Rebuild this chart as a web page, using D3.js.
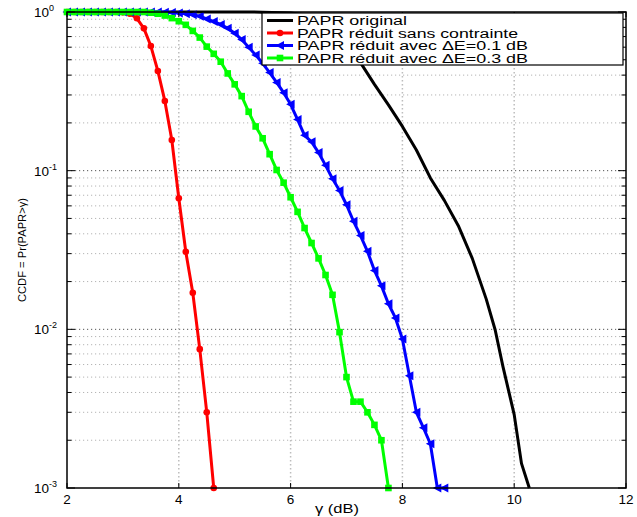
<!DOCTYPE html>
<html>
<head>
<meta charset="utf-8">
<script src="https://cdn.jsdelivr.net/npm/d3@7/dist/d3.min.js"></script>
<style>
  html, body { margin: 0; padding: 0; background: #fff; }
  svg { display: block; font-family: "Liberation Sans", Arial, Helvetica, sans-serif; }
</style>
</head>
<body>
<svg id="chart" width="637" height="517"></svg>
<script>
// Sample grid (dB) shared by the three reduced-PAPR curves
const gamma = [2, 2.125, 2.25, 2.375, 2.5, 2.625, 2.75, 2.875, 3, 3.125, 3.25, 3.375, 3.5, 3.625, 3.75, 3.875,
  4, 4.125, 4.25, 4.375, 4.5, 4.625, 4.75, 4.875, 5, 5.125, 5.25, 5.375, 5.5, 5.625, 5.75, 5.875,
  6, 6.125, 6.25, 6.375, 6.5, 6.625, 6.75, 6.875, 7, 7.125, 7.25, 7.375, 7.5, 7.625, 7.75, 7.875,
  8, 8.125, 8.25, 8.375, 8.5, 8.625, 8.75];

// PAPR réduit sans contrainte
const ccdfNoConstraint = [1, 1, 1, 1, 1, 1, 1, 0.999, 0.995, 0.975, 0.913, 0.789, 0.61, 0.425, 0.275, 0.156,
  0.067, 0.0308, 0.017, 0.0075, 0.003, 0.001];

// PAPR réduit avec ΔE = 0.1 dB
const ccdfDelta01 = [1, 1, 1, 1, 1, 1, 1, 1, 1, 1, 1, 1, 1, 1, 0.997, 0.993,
  0.985, 0.975, 0.96, 0.94, 0.905, 0.87, 0.835, 0.79, 0.735, 0.67, 0.60, 0.535, 0.475, 0.415, 0.36, 0.31,
  0.262, 0.21, 0.167, 0.152, 0.13, 0.108, 0.089, 0.075, 0.061, 0.048, 0.039, 0.031, 0.0235, 0.0188, 0.0145, 0.0118,
  0.0087, 0.0051, 0.003, 0.0024, 0.0019, 0.001, 0.001];

// PAPR réduit avec ΔE = 0.3 dB
const ccdfDelta03 = [1, 1, 1, 1, 1, 1, 1, 1, 1, 1, 1, 1, 0.99, 0.975, 0.95, 0.915,
  0.875, 0.83, 0.76, 0.69, 0.605, 0.545, 0.486, 0.41, 0.35, 0.295, 0.235, 0.19, 0.16, 0.127, 0.101, 0.084,
  0.068, 0.055, 0.0435, 0.035, 0.028, 0.022, 0.0165, 0.0096, 0.005, 0.0035, 0.0035, 0.003, 0.0025, 0.002, 0.001];

// PAPR original (no markers)
const gammaOriginal = [2, 5, 5.5, 6, 6.25, 6.5, 6.75, 7, 7.25, 7.5, 7.75, 8, 8.25, 8.5, 8.75, 9, 9.25, 9.5, 9.66, 9.8, 10, 10.13, 10.27];
const ccdfOriginal = [1, 1, 0.998, 0.985, 0.96, 0.91, 0.8, 0.65, 0.48, 0.35, 0.26, 0.19, 0.135, 0.09, 0.065, 0.045, 0.028, 0.0155, 0.0099, 0.0058, 0.0029, 0.00143, 0.001];

const xTicks = [2, 4, 6, 8, 10, 12];
const yDecades = [0, -1, -2, -3];
const legendLabels = ["PAPR original", "PAPR réduit sans contrainte", "PAPR réduit avec \u0394E=0.1 dB", "PAPR réduit avec \u0394E=0.3 dB"];

const svg = d3.select("#chart");
const L = 67, R = 626, T = 12, B = 488;

const x = d3.scaleLinear().domain([2, 12]).range([L, R]);
const y = d3.scaleLog().domain([1e-3, 1]).range([B, T]);

// grid
const grid = svg.append("g");
const minorVals = [];
[-3, -2, -1].forEach(e => { for (let m = 2; m <= 9; m++) minorVals.push(m * Math.pow(10, e)); });
grid.selectAll(".ymin").data(minorVals).join("line")
  .attr("x1", L).attr("x2", R).attr("y1", d => y(d)).attr("y2", d => y(d))
  .attr("stroke", "#b4b4b4").attr("stroke-width", 1).attr("stroke-dasharray", "1.2,2.8");
grid.selectAll(".ymaj").data(yDecades.slice(1, 3)).join("line")
  .attr("x1", L).attr("x2", R).attr("y1", d => y(Math.pow(10, d))).attr("y2", d => y(Math.pow(10, d)))
  .attr("stroke", "#555").attr("stroke-width", 1).attr("stroke-dasharray", "1.2,2.8");
grid.selectAll(".xg").data(xTicks.slice(1, -1)).join("line")
  .attr("x1", d => x(d)).attr("x2", d => x(d)).attr("y1", T).attr("y2", B)
  .attr("stroke", "#bdbdbd").attr("stroke-width", 1.5).attr("stroke-dasharray", "1.5,2.5");

// curves
const line = d3.line().x(d => x(d[0])).y(d => y(d[1]));
const zip = (xs, ys) => ys.map((v, i) => [xs[i], v]);

const series = [
  { data: zip(gammaOriginal, ccdfOriginal), color: "#000000", marker: null },
  { data: zip(gamma, ccdfNoConstraint), color: "#ff0000", marker: "circle" },
  { data: zip(gamma, ccdfDelta01), color: "#0000ff", marker: "triangle" },
  { data: zip(gamma, ccdfDelta03), color: "#00ff00", marker: "square" }
];

function drawMarker(g, type, color, cx, cy) {
  if (type === "circle") {
    g.append("circle").attr("cx", cx).attr("cy", cy).attr("r", 3.3).attr("fill", color);
  } else if (type === "triangle") {
    g.append("path").attr("d", `M${cx - 4.5},${cy} L${cx + 4},${cy - 4.5} L${cx + 4},${cy + 4.5} Z`).attr("fill", color);
  } else if (type === "square") {
    g.append("rect").attr("x", cx - 3.3).attr("y", cy - 3.3).attr("width", 6.6).attr("height", 6.6).attr("fill", color);
  }
}

const curves = svg.append("g");
series.forEach(s => {
  curves.append("path").attr("d", line(s.data)).attr("fill", "none")
    .attr("stroke", s.color).attr("stroke-width", 3).attr("stroke-linejoin", "round");
  if (s.marker) {
    const mg = curves.append("g");
    s.data.forEach(d => drawMarker(mg, s.marker, s.color, x(d[0]), y(d[1])));
  }
});

// axes box and ticks
const ax = svg.append("g").attr("stroke", "#000");
ax.append("rect").attr("x", L).attr("y", T).attr("width", R - L).attr("height", B - T)
  .attr("fill", "none").attr("stroke-width", 1.5);
xTicks.forEach(t => {
  ax.append("line").attr("x1", x(t)).attr("x2", x(t)).attr("y1", B).attr("y2", B - 5).attr("stroke-width", 1);
  ax.append("line").attr("x1", x(t)).attr("x2", x(t)).attr("y1", T).attr("y2", T + 5).attr("stroke-width", 1);
});
yDecades.forEach(e => {
  const yy = y(Math.pow(10, e));
  ax.append("line").attr("x1", L).attr("x2", L + 8).attr("y1", yy).attr("y2", yy).attr("stroke-width", 1);
  ax.append("line").attr("x1", R).attr("x2", R - 8).attr("y1", yy).attr("y2", yy).attr("stroke-width", 1);
});
minorVals.forEach(v => {
  const yy = y(v);
  ax.append("line").attr("x1", L).attr("x2", L + 4.5).attr("y1", yy).attr("y2", yy).attr("stroke-width", 1);
  ax.append("line").attr("x1", R).attr("x2", R - 4.5).attr("y1", yy).attr("y2", yy).attr("stroke-width", 1);
});

// tick labels
svg.append("g").selectAll("text").data(xTicks).join("text")
  .attr("x", d => x(d)).attr("y", 504).attr("text-anchor", "middle")
  .attr("font-size", 13.5).attr("fill", "#000").text(d => d);

const yl = svg.append("g");
yDecades.forEach(e => {
  const yy = y(Math.pow(10, e));
  const t = yl.append("text").attr("x", 34).attr("y", yy + 5).attr("font-size", 13.5).attr("fill", "#000");
  t.append("tspan").text("10");
  t.append("tspan").attr("dy", -6).attr("font-size", 9).text(e);
});

// axis titles
svg.append("text").attr("x", 337).attr("y", 513).attr("text-anchor", "middle")
  .attr("font-size", 13).attr("textLength", 44).attr("lengthAdjust", "spacingAndGlyphs")
  .text("\u03b3 (dB)");
svg.append("text").attr("transform", "translate(26,250) rotate(-90)").attr("text-anchor", "middle")
  .attr("font-size", 11.5).attr("textLength", 104).attr("lengthAdjust", "spacingAndGlyphs")
  .text("CCDF = Pr(PAPR>\u03b3)");

// legend
const lg = svg.append("g");
lg.append("rect").attr("x", 262).attr("y", 13).attr("width", 361).attr("height", 52)
  .attr("fill", "#fff").attr("stroke", "#000").attr("stroke-width", 1.2);
const rowY = [20.5, 33, 45.5, 58];
const textLen = [110, 221, 231, 231];
series.forEach((s, i) => {
  lg.append("line").attr("x1", 267).attr("x2", 293).attr("y1", rowY[i]).attr("y2", rowY[i])
    .attr("stroke", s.color).attr("stroke-width", 3);
  if (s.marker) drawMarker(lg, s.marker, s.color, 280, rowY[i]);
  lg.append("text").attr("x", 297).attr("y", rowY[i] + 4.5).attr("font-size", 12.5)
    .attr("textLength", textLen[i]).attr("lengthAdjust", "spacingAndGlyphs").text(legendLabels[i]);
});
</script>
</body>
</html>
